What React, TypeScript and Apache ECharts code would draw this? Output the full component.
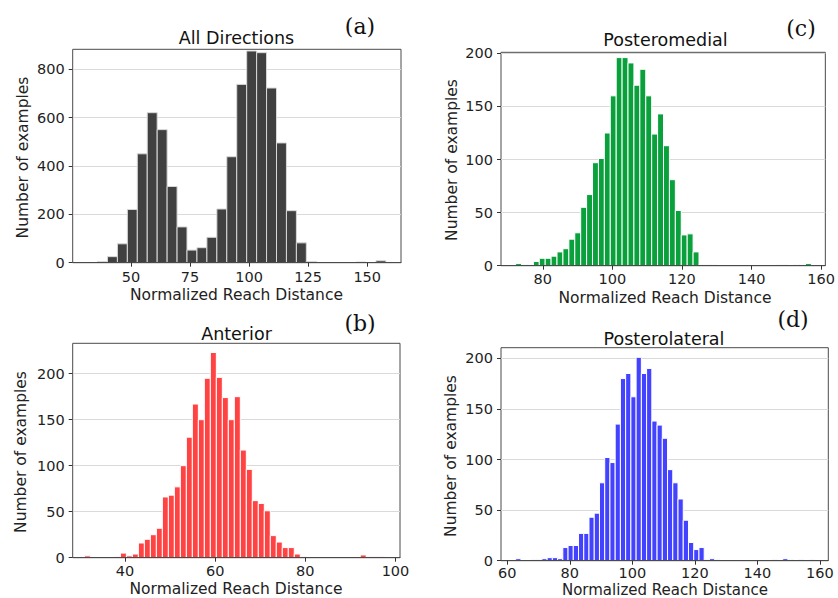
import React, { useEffect, useRef } from 'react';
import * as echarts from 'echarts';

// ---- data (histogram counts) ----
const allStart = 31.6;
const allWidth = 4.21;
const allCounts = [1, 5, 25, 78, 220, 450, 620, 550, 315, 148, 52, 62, 105, 222, 438, 737, 875, 868, 722, 495, 215, 82, 5, 0, 0, 0, 0, 3, 0, 8];

const antStart = 31.0;
const antWidth = 1.33;
const antCounts = [2, 0, 0, 0, 0, 1, 5, 2, 4, 16, 20, 25, 32, 66, 68, 77, 100, 131, 167, 150, 195, 223, 196, 174, 150, 175, 117, 96, 62, 59, 51, 24, 17, 11, 11, 4, 1, 0, 0, 0, 0, 0, 0, 0, 0, 0, 3, 1, 1, 1];

const pmStart = 72.2;
const pmWidth = 1.7;
const pmCounts = [2, 1, 1, 4, 7, 7, 9, 13, 16, 25, 31, 55, 67, 97, 101, 125, 160, 196, 196, 191, 170, 185, 160, 124, 143, 113, 81, 52, 29, 30, 13, 1, 1, 1, 0, 0, 0, 0, 0, 0, 0, 0, 0, 0, 1, 1, 0, 1, 1, 2];

const plStart = 62.7;
const plWidth = 1.675;
const plCounts = [2, 0, 0, 1, 1, 2, 3, 3, 2, 13, 15, 15, 27, 27, 43, 47, 77, 102, 97, 135, 180, 185, 162, 201, 185, 190, 138, 134, 121, 90, 77, 61, 40, 18, 11, 13, 1, 2, 1, 0, 0, 0, 0, 0, 0, 0, 0, 0, 0, 1, 0, 2, 1, 0, 1, 0, 1];

const allXTicks = [50, 75, 100, 125, 150];
const antXTicks = [40, 60, 80, 100];
const pmXTicks = [80, 100, 120, 140, 160];
const plXTicks = [60, 80, 100, 120, 140, 160];
const allYTicks = [0, 200, 400, 600, 800];
const smallYTicks = [0, 50, 100, 150, 200];

const titles = ['All Directions', 'Anterior', 'Posteromedial', 'Posterolateral'];
const panelTags = ['(a)', '(b)', '(c)', '(d)'];
const xName = 'Normalized Reach Distance';
const yName = 'Number of examples';

const FONT = 'DejaVu Sans';

function bins(start: number, width: number, counts: number[]) {
  return counts
    .map((c, i) => [start + i * width, start + (i + 1) * width, c])
    .filter((d) => d[2] > 0);
}

const panels = [
  {
    grid: { left: 72.7, top: 49.3, width: 328.3, height: 213.4 },
    xMin: 25.3, xMax: 164.3, xTicks: allXTicks,
    yMax: 882, yInterval: 200, yTicks: allYTicks,
    color: '#404040', edge: '#d8d8d8',
    data: bins(allStart, allWidth, allCounts),
    title: { x: 236.5, y: 38 }, tag: { x: 360, y: 26 },
    xl: { x: 236.5, y: 295, size: 15.5 }, yl: { x: 23, y: 157.5 }, labelMargin: 7,
  },
  {
    grid: { left: 72.7, top: 343.3, width: 327.3, height: 214.4 },
    xMin: 28.4, xMax: 101, xTicks: antXTicks,
    yMax: 233, yInterval: 50, yTicks: smallYTicks,
    color: '#ff4343', edge: '#ffffff',
    data: bins(antStart, antWidth, antCounts),
    title: { x: 236.5, y: 334 }, tag: { x: 360, y: 323 },
    xl: { x: 236, y: 589, size: 15.5 }, yl: { x: 21, y: 452 }, labelMargin: 6,
  },
  {
    grid: { left: 501, top: 52.3, width: 328.3, height: 213.4 },
    xMin: 68, xMax: 161.2, xTicks: pmXTicks,
    yMax: 201, yInterval: 50, yTicks: smallYTicks,
    color: '#0aa03c', edge: '#ffffff',
    data: bins(pmStart, pmWidth, pmCounts),
    title: { x: 665.5, y: 39.5 }, tag: { x: 801, y: 28 },
    xl: { x: 665, y: 297.5, size: 15.5 }, yl: { x: 452, y: 160 }, labelMargin: 6,
  },
  {
    grid: { left: 501, top: 347.7, width: 327.3, height: 213 },
    xMin: 58, xMax: 162.7, xTicks: plXTicks,
    yMax: 210.5, yInterval: 50, yTicks: smallYTicks,
    color: '#4343ff', edge: '#ffffff',
    data: bins(plStart, plWidth, plCounts),
    title: { x: 664, y: 339 }, tag: { x: 793, y: 319 },
    xl: { x: 665, y: 590, size: 15 }, yl: { x: 451, y: 456 }, labelMargin: 4.5,
  },
];

function buildOption() {
  const grid = panels.map((p) => ({
    ...p.grid,
    show: true,
    borderColor: '#4a4a4a',
    borderWidth: 1,
    backgroundColor: 'rgba(0,0,0,0)',
    containLabel: false,
  }));
  const xAxis = panels.map((p, i) => ({
    gridIndex: i,
    type: 'value',
    min: p.xMin,
    max: p.xMax,
    z: 5,
    axisLine: { show: true, onZero: false, lineStyle: { color: '#4a4a4a', width: 1 } },
    axisTick: { show: true, customValues: p.xTicks, length: 4, lineStyle: { color: '#333', width: 1 } },
    axisLabel: { customValues: p.xTicks, margin: p.labelMargin, fontSize: 14.5, color: '#1e1e1e', fontFamily: FONT },
    splitLine: { show: false },
  }));
  const yAxis = panels.map((p, i) => ({
    gridIndex: i,
    type: 'value',
    min: 0,
    max: p.yMax,
    interval: p.yInterval,
    axisLine: { show: false },
    axisTick: { show: true, customValues: p.yTicks, length: 4, lineStyle: { color: '#333', width: 1 } },
    axisLabel: { customValues: p.yTicks, margin: 8, fontSize: 14.5, color: '#1e1e1e', fontFamily: FONT },
    splitLine: { show: true, lineStyle: { color: '#dadada', width: 1.2 } },
  }));
  const series = panels.map((p, i) => ({
    type: 'custom',
    xAxisIndex: i,
    yAxisIndex: i,
    clip: true,
    encode: { x: [0, 1], y: 2 },
    data: p.data,
    renderItem: (_params: any, api: any) => {
      const x0 = api.value(0);
      const x1 = api.value(1);
      const v = api.value(2);
      const a = api.coord([x0, v]);
      const b = api.coord([x1, 0]);
      return {
        type: 'rect',
        shape: { x: a[0], y: a[1], width: b[0] - a[0], height: b[1] - a[1] },
        style: { fill: p.color, stroke: p.edge, lineWidth: 1 },
      };
    },
  }));
  const graphic: any[] = [];
  panels.forEach((p, i) => {
    graphic.push({
      type: 'text', x: p.title.x, y: p.title.y,
      style: { text: titles[i], fontSize: 17.5, fontFamily: FONT, fill: '#111', align: 'center', verticalAlign: 'middle' },
    });
    graphic.push({
      type: 'text', x: p.tag.x, y: p.tag.y,
      style: { text: panelTags[i], fontSize: 22, fontFamily: 'DejaVu Serif', fill: '#111', align: 'center', verticalAlign: 'middle' },
    });
    graphic.push({
      type: 'text', x: p.xl.x, y: p.xl.y,
      style: { text: xName, fontSize: p.xl.size, fontFamily: FONT, fill: '#222', align: 'center', verticalAlign: 'middle' },
    });
    graphic.push({
      type: 'text', x: p.yl.x, y: p.yl.y, rotation: Math.PI / 2,
      style: { text: yName, fontSize: 15.5, fontFamily: FONT, fill: '#222', align: 'center', verticalAlign: 'middle' },
    });
  });
  return {
    animation: false,
    backgroundColor: '#ffffff',
    grid,
    xAxis,
    yAxis,
    series,
    graphic,
  };
}

export default function App() {
  const ref = useRef<HTMLDivElement>(null);
  useEffect(() => {
    if (!ref.current) return;
    const chart = echarts.init(ref.current, null, { renderer: 'svg' });
    chart.setOption(buildOption() as any);
    return () => chart.dispose();
  }, []);
  return (
    <div
      ref={ref}
      style={{ position: 'fixed', left: 0, top: 0, width: 838, height: 598, background: '#fff' }}
    />
  );
}
